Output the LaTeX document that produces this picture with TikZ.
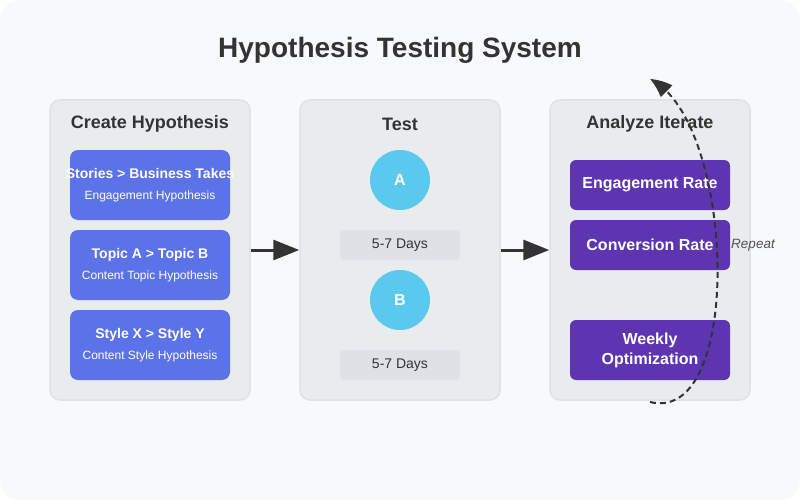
\documentclass[tikz,border=0pt]{standalone}
\usepackage{fontspec}
\setmainfont{Liberation Sans}
\usepackage{tikz}
\usetikzlibrary{arrows.meta,bending}
\definecolor{canvasbg}{HTML}{F8F9FA}
\definecolor{panelfill}{HTML}{E9ECEF}
\definecolor{panelline}{HTML}{DEE2E6}
\definecolor{hypblue}{HTML}{5C72E8}
\definecolor{testcyan}{HTML}{5BC9EE}
\definecolor{daysgray}{HTML}{DEE2E6}
\definecolor{metricpurple}{HTML}{5E35B1}
\definecolor{inkdark}{HTML}{333333}

\begin{document}
\begin{tikzpicture}[x=1pt,y=-1pt,
  panel/.style={draw=panelline,fill=panelfill,rounded corners=10pt,line width=1.5pt,minimum width=200pt,minimum height=300pt,inner sep=0pt},
  paneltitle/.style={font=\fontsize{18}{21}\selectfont\bfseries,text=inkdark},
  hypbox/.style={fill=hypblue,rounded corners=8pt,minimum width=160pt,minimum height=70pt,inner sep=0pt,text=white,align=center,font=\fontsize{12}{21}\selectfont},
  testcircle/.style={circle,fill=testcyan,minimum size=60pt,inner sep=0pt,text=white,font=\fontsize{16}{18}\selectfont\bfseries},
  daysbox/.style={fill=daysgray,rounded corners=4pt,minimum width=120pt,minimum height=30pt,inner sep=0pt,text=inkdark,font=\fontsize{14}{16}\selectfont},
  metricbox/.style={fill=metricpurple,rounded corners=6pt,minimum width=160pt,inner sep=0pt,text=white,align=center,font=\fontsize{16}{20}\selectfont\bfseries},
  flowarrow/.style={-{Triangle[length=26pt,width=20pt]},line width=3pt,draw=inkdark}]
\fill[white] (0,0) rectangle (800,500);
\fill[canvasbg,rounded corners=20pt] (0,0) rectangle (800,500);
\node[font=\fontsize{28}{32}\selectfont\bfseries,text=inkdark] (title) at (400,50) {Hypothesis Testing System};
\node[panel] (hyp) at (150,250) {};
\node[panel] (test) at (400,250) {};
\node[panel] (analyze) at (650,250) {};
\node[paneltitle] (hyptitle) at (150,124) {Create Hypothesis};
\node[paneltitle] (testtitle) at (400,124) {Test};
\node[paneltitle] (analyzetitle) at (650,124) {Analyze Iterate};
\node[hypbox] (h1) at (150,185) {\makebox[0pt]{\fontsize{14}{16}\selectfont\bfseries Stories > Business Takes}\\Engagement Hypothesis};
\node[hypbox] (h2) at (150,265) {{\fontsize{14}{16}\selectfont\bfseries Topic A > Topic B}\\Content Topic Hypothesis};
\node[hypbox] (h3) at (150,345) {{\fontsize{14}{16}\selectfont\bfseries Style X > Style Y}\\Content Style Hypothesis};
\node[testcircle] (va) at (400,180) {A};
\node[daysbox] (da) at (400,245) {5-7 Days};
\node[testcircle] (vb) at (400,300) {B};
\node[daysbox] (db) at (400,365) {5-7 Days};
\node[metricbox,minimum height=50pt] (m1) at (650,185) {Engagement Rate};
\node[metricbox,minimum height=50pt] (m2) at (650,245) {Conversion Rate};
\node[metricbox,minimum height=60pt] (m3) at (650,350) {Weekly\\Optimization};
\draw[flowarrow] (hyp.east) -- (test.west);
\draw[flowarrow] (test.east) -- (analyze.west);
\coordinate (loopstart) at (650,402);
\coordinate (loopend) at (650,79);
\draw[-{Triangle[length=20pt,width=16pt,bend]},line width=2pt,draw=inkdark,dash pattern=on 6pt off 4pt] (loopstart) .. controls (745,425) and (735,120) .. (loopend);
\node[font=\fontsize{13.5}{16}\selectfont\itshape,text=inkdark!85] (repeat) at (753,245) {Repeat};
\end{tikzpicture}
\end{document}
